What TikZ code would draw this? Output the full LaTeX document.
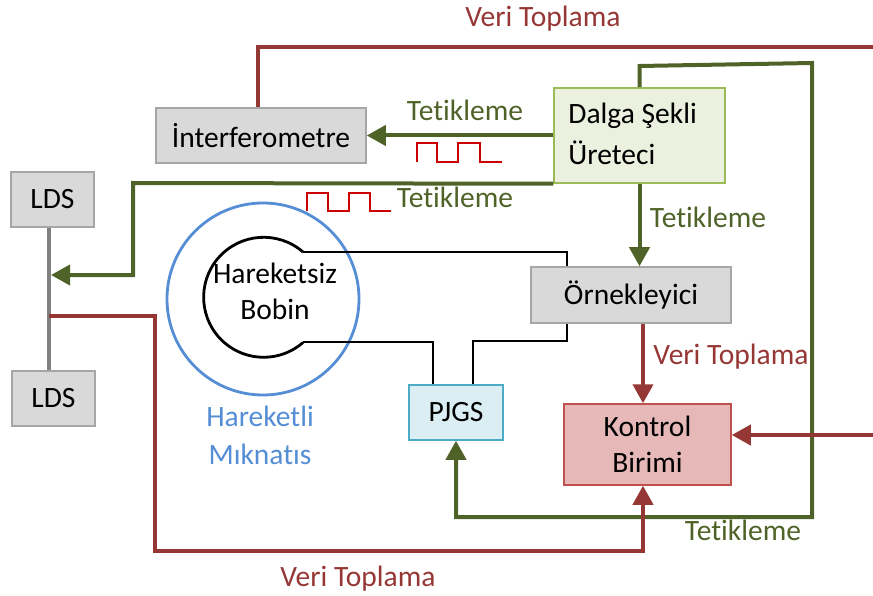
\documentclass[tikz,border=0pt]{standalone}
\usepackage{fontspec}
\setmainfont{Carlito}[Ligatures=NoCommon]
\usetikzlibrary{arrows.meta}
\definecolor{dred}{HTML}{953735}
\definecolor{lgreen}{HTML}{4F6228}
\definecolor{wred}{HTML}{CC0000}
\definecolor{mblue}{HTML}{558ED5}
\definecolor{fillgray}{HTML}{D9D9D9}
\definecolor{boxgray}{HTML}{A6A6A6}
\definecolor{bargray}{HTML}{808080}
\definecolor{dfill}{HTML}{EBF1DE}
\definecolor{ddraw}{HTML}{9BBB59}
\definecolor{pfill}{HTML}{DAEEF3}
\definecolor{pdraw}{HTML}{4BACC6}
\definecolor{kfill}{HTML}{E6B9B8}
\definecolor{kdraw}{HTML}{C0504D}
\begin{document}
\begin{tikzpicture}[x=1pt,y=1pt]
\tikzset{
  txt/.style={font=\fontsize{29.5}{36}\selectfont},
  lbl/.style={txt, inner sep=0pt, anchor=base},
  boxbase/.style={txt, line width=1.5pt, inner sep=0pt},
  boxg/.style={boxbase, draw=boxgray, fill=fillgray},
  boxd/.style={boxbase, draw=ddraw, fill=dfill},
  boxp/.style={boxbase, draw=pdraw, fill=pfill},
  boxk/.style={boxbase, draw=kdraw, fill=kfill},
  conn/.style={line width=4pt},
  grn/.style={conn, draw=lgreen},
  redl/.style={conn, draw=dred},
  tip/.style={-{Triangle[length=19pt,width=20pt]}},
  wire/.style={line width=2.8pt, draw=black},
  wave/.style={line width=2.6pt, draw=wred},
}
\useasboundingbox (0,0) rectangle (873,-596);

% magnet and coil
\draw[line width=2.8pt, mblue] (263,-299) circle[radius=96pt];
\coordinate (coilT) at (303,-252);
\coordinate (coilB) at (303,-342);
\draw[wire] (coilT) arc[start angle=49, end angle=311, radius=60pt];

% boxes
\node[boxg, minimum width=210pt, minimum height=55pt] (interf) at (261,-135.5) {İnterferometre};
\node[boxd, minimum width=171pt, minimum height=95pt] (dalga) at (639.5,-135.5) {};
\node[txt, font=\fontsize{29.5}{41}\selectfont, align=left, inner sep=0pt, anchor=west] (dalgatxt) at ([xshift=15pt,yshift=2pt]dalga.west) {Dalga Şekli\\Üreteci};
\node[boxg, minimum width=200pt, minimum height=56pt] (ornek) at (631,-295) {Örnekleyici};
\node[boxp, minimum width=94pt, minimum height=55pt] (pjgs) at (456,-412.5) {PJGS};
\node[boxk, minimum width=167pt, minimum height=81pt, align=center] (kontrol) at (647.5,-444.5) {Kontrol\\Birimi};
\node[boxg, minimum width=83pt, minimum height=55pt] (lds1) at (52.5,-199.5) {LDS};
\node[boxg, minimum width=83pt, minimum height=55pt] (lds2) at (53.5,-398.5) {LDS};

% coil / magnet labels
\node[txt, align=center, inner sep=0pt] (bobin) at (275,-291) {Hareketsiz\\Bobin};
\node[txt, align=center, inner sep=0pt, text=mblue, font=\fontsize{29.5}{38}\selectfont] (magnet) at (260,-435) {Hareketli\\Mıknatıs};

% LDS bar
\coordinate (barx) at (49,0);
\draw[line width=4pt, draw=bargray] (lds1.south -| barx) -- (lds2.north -| barx);

% green connectors
\coordinate (gA) at (133,-183);
\coordinate (gB) at (133,-275);
\coordinate (ldsIn) at (51,-275);
\draw[grn, tip] (dalga.south west) -- (gA) -- (gB) -- (ldsIn);
\draw[grn, tip] (dalga.west) -- (interf.east);
\draw[grn, tip] (dalga.south) -- (dalga.south |- ornek.north);
\coordinate (gC) at (639,-66);
\coordinate (gD) at (812,-63);
\coordinate (gE) at (812,-517);
\coordinate (gF) at (456,-517);
\draw[grn, tip] (dalga.north) -- (dalga.north |- gC) -- (gD) -- (gE) -- (gF) -- (pjgs.south);

% red connectors
\coordinate (rA) at (258,-47);
\coordinate (rB) at (876,-47);
\draw[redl] ([xshift=-3pt]interf.north) -- (rA) -- (rB);
\coordinate (rC) at (876,-435);
\draw[redl, tip] (rC) -- (kontrol.east |- rC);
\coordinate (rx) at (643,0);
\draw[redl, tip] (ornek.south -| rx) -- (kontrol.north -| rx);
\coordinate (rD) at (49,-316);
\coordinate (rE) at (155,-316);
\coordinate (rF) at (155,-551);
\coordinate (rG) at (643,-551);
\draw[redl, tip] (rD) -- (rE) -- (rF) -- (rG) -- (kontrol.south -| rx);

% black wires
\coordinate (wx) at (567,0);
\coordinate (w1) at (433,0);
\coordinate (w2) at (473,-341);
\draw[wire] (coilT) -- (coilT -| wx) -- (ornek.north -| wx);
\draw[wire] (coilB) -- (coilB -| w1) -- (pjgs.north -| w1);
\draw[wire] (pjgs.north -| w2) -- (w2) -- (w2 -| wx) -- (ornek.south -| wx);

% trigger pulses
\draw[wave] (417,-162) -- (417,-143) -- (437,-143) -- (437,-162) -- (458,-162) -- (458,-143) -- (480,-143) -- (480,-162) -- (502,-162);
\draw[wave] (307,-211) -- (307,-193) -- (328,-193) -- (328,-211) -- (349,-211) -- (349,-193) -- (370,-193) -- (370,-211) -- (391,-211);

% labels
\node[lbl, text=dred] (vt1) at (543,-27) {Veri Toplama};
\node[lbl, text=lgreen] (tk1) at (465,-121) {Tetikleme};
\node[lbl, text=lgreen] (tk2) at (455,-208) {Tetikleme};
\node[lbl, text=lgreen] (tk3) at (708,-228) {Tetikleme};
\node[lbl, text=dred] (vt2) at (731,-364) {Veri Toplama};
\node[lbl, text=lgreen] (tk4) at (743,-540) {Tetikleme};
\node[lbl, text=dred] (vt3) at (358,-586) {Veri Toplama};
\end{tikzpicture}
\end{document}
